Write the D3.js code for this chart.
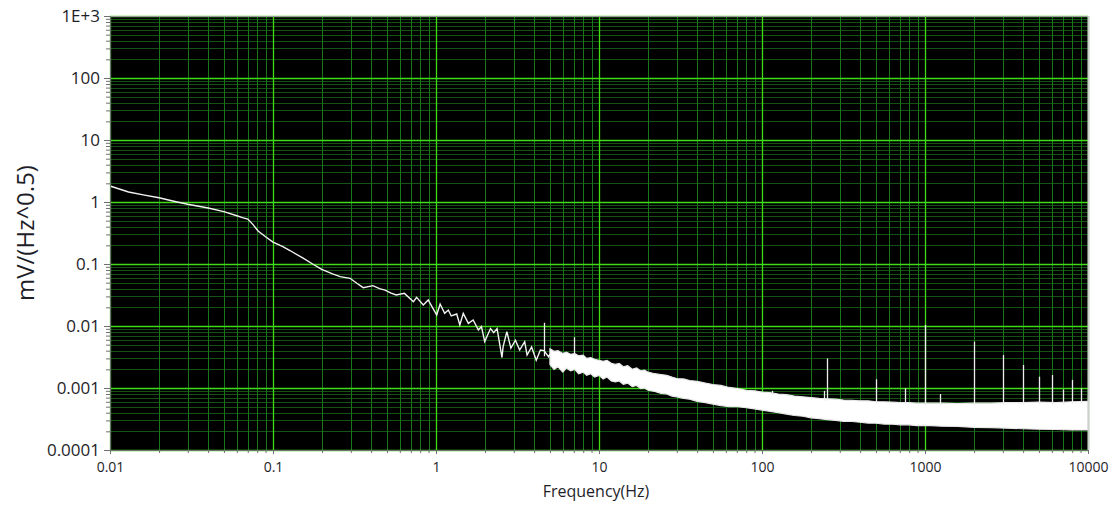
<!DOCTYPE html>
<html>
<head>
<meta charset="utf-8">
<script src="https://cdn.jsdelivr.net/npm/d3@7"></script>
<style>
  body { margin: 0; background: #fff; }
  svg { display: block; }
  .tick text { font-family: "Open Sans", sans-serif; fill: #1e1e28; }
</style>
</head>
<body>
<svg id="chart" width="1113" height="508"></svg>
<script>
// tick labels
const xTickLabels = ["0.01", "0.1", "1", "10", "100", "1000", "10000"]
const yTickLabels = ["0.0001", "0.001", "0.01", "0.1", "1", "10", "100", "1E+3"]

// low frequency trace [Hz, mV/sqrt(Hz)]
const trace = [
  [0.01, 1.81], [0.013, 1.45], [0.016, 1.3], [0.02, 1.17], [0.025, 1.02],
  [0.03, 0.92], [0.04, 0.8], [0.05, 0.7], [0.06, 0.6], [0.065, 0.56],
  [0.07, 0.53], [0.075, 0.44], [0.081, 0.34], [0.09, 0.275], [0.1, 0.225],
  [0.115, 0.19], [0.127, 0.165], [0.153, 0.124], [0.175, 0.1], [0.199, 0.082], [0.23, 0.07],
  [0.258, 0.0625], [0.297, 0.0588], [0.33, 0.048], [0.358, 0.0415], [0.41, 0.0447],
  [0.45, 0.04], [0.487, 0.038], [0.53, 0.034], [0.57, 0.0316], [0.64, 0.0336],
  [0.727, 0.0247], [0.76, 0.029], [0.836, 0.0218], [0.896, 0.0263], [0.95, 0.02],
  [1.01, 0.015], [1.06, 0.0226], [1.13, 0.016], [1.19, 0.0181], [1.24, 0.0145],
  [1.34, 0.0156], [1.4, 0.0104], [1.47, 0.016], [1.58, 0.011], [1.69, 0.0125],
  [1.82, 0.0086], [1.9, 0.0098], [1.99, 0.0056], [2.16, 0.0091], [2.26, 0.0078],
  [2.37, 0.0091], [2.54, 0.0031], [2.58, 0.0046], [2.72, 0.0081], [2.88, 0.0044],
  [3.07, 0.0059], [3.26, 0.0041], [3.5, 0.0056], [3.62, 0.0034], [3.86, 0.0046],
  [4.12, 0.0028], [4.37, 0.0041], [4.6, 0.004], [4.9, 0.0032], [5.0, 0.0035]
]

// noise band above ~5 Hz [Hz, low edge, high edge]
const band = [
  [5.0, 0.0024, 0.0043], [5.3, 0.002, 0.0039], [5.6, 0.0022, 0.004], [6.0, 0.0018, 0.0036],
  [6.3, 0.0021, 0.0038], [6.7, 0.0019, 0.0035], [7.1, 0.002, 0.0036], [7.5, 0.0017, 0.0033],
  [8.0, 0.0018, 0.0034], [8.4, 0.0016, 0.003], [8.9, 0.0017, 0.0031], [9.4, 0.0015, 0.0029],
  [10, 0.0016, 0.0028], [10.6, 0.0014, 0.0027], [11.2, 0.0015, 0.0028], [11.9, 0.0013, 0.0025],
  [12.6, 0.00125, 0.0024], [13.3, 0.0013, 0.0025], [14.1, 0.00115, 0.0022], [15, 0.0012, 0.0023],
  [16, 0.00105, 0.002], [17, 0.0011, 0.0021], [18, 0.00098, 0.0019], [19, 0.001, 0.00195],
  [20, 0.00092, 0.0018], [22, 0.00088, 0.0017], [24, 0.00082, 0.00165], [26, 0.0008, 0.0016],
  [28, 0.00074, 0.0015], [30, 0.00072, 0.00142], [33, 0.00068, 0.0014], [36, 0.00066, 0.00132],
  [40, 0.00061, 0.00128], [45, 0.00058, 0.0012], [50, 0.00055, 0.00114], [56, 0.00052, 0.0011],
  [63, 0.0005, 0.00102], [71, 0.0005, 0.00098], [80, 0.00048, 0.00092], [90, 0.00046, 0.0009],
  [100, 0.00044, 0.00086], [112, 0.00042, 0.00084], [126, 0.0004, 0.0008], [141, 0.00038, 0.00078],
  [158, 0.00036, 0.00074], [178, 0.00035, 0.00072], [200, 0.00033, 0.0007], [224, 0.00032, 0.00068],
  [251, 0.00031, 0.00067], [282, 0.0003, 0.00066], [316, 0.00029, 0.00064], [355, 0.000288, 0.00063],
  [398, 0.00028, 0.00062], [447, 0.000272, 0.00062], [501, 0.00027, 0.0006], [562, 0.000262, 0.0006],
  [631, 0.00026, 0.00059], [708, 0.000255, 0.00058], [794, 0.000255, 0.00058], [891, 0.000248, 0.00057],
  [1000, 0.00025, 0.00057], [1259, 0.000242, 0.00057], [1585, 0.00024, 0.00056], [1995, 0.000232, 0.00057],
  [2512, 0.00023, 0.00057], [3162, 0.000225, 0.00058], [3981, 0.00022, 0.00058], [5012, 0.000216, 0.00059],
  [6310, 0.000214, 0.00058], [7943, 0.00021, 0.0006], [10000, 0.00021, 0.00061]
]

// line spikes [Hz, peak]
const spikes = [
  [4.62, 0.0113], [7.03, 0.0066], [115, 0.0009], [240, 0.0009], [250, 0.003],
  [500, 0.00138], [750, 0.00099], [1000, 0.0104], [1240, 0.0008], [2000, 0.0056],
  [3000, 0.0034], [4000, 0.00235], [5000, 0.00152], [6000, 0.00162], [7000, 0.00095],
  [8000, 0.00135], [9000, 0.00099], [9950, 0.00076]
]

const svg = d3.select('#chart')
const plotLeft = 110, plotRight = 1088, plotTop = 16, plotBottom = 450

const x = d3.scaleLog().domain([0.01, 10000]).range([plotLeft, plotRight])
const y = d3.scaleLog().domain([0.0001, 1000]).range([plotBottom, plotTop])

const isMajor = d => Math.abs(Math.log10(d) - Math.round(Math.log10(d))) < 1e-9
const crisp = v => Math.round(v) + 0.5

svg.append('rect')
  .attr('x', plotLeft).attr('y', plotTop)
  .attr('width', plotRight - plotLeft).attr('height', plotBottom - plotTop)
  .attr('fill', '#000')

// grid
const grid = svg.append('g')
grid.selectAll('.hminor')
  .data(y.ticks().filter(d => !isMajor(d)))
  .join('line')
  .attr('x1', plotLeft).attr('x2', plotRight)
  .attr('y1', d => crisp(y(d))).attr('y2', d => crisp(y(d)))
  .attr('stroke', '#145214')
grid.selectAll('.vminor')
  .data(x.ticks().filter(d => !isMajor(d)))
  .join('line')
  .attr('y1', plotTop).attr('y2', plotBottom)
  .attr('x1', d => crisp(x(d))).attr('x2', d => crisp(x(d)))
  .attr('stroke', '#1a761a')
grid.selectAll('.hmajor')
  .data(y.ticks().filter(isMajor))
  .join('line')
  .attr('x1', plotLeft).attr('x2', plotRight)
  .attr('y1', d => crisp(y(d))).attr('y2', d => crisp(y(d)))
  .attr('stroke', '#3fdc14').attr('stroke-width', 1.3)
grid.selectAll('.vmajor')
  .data(x.ticks().filter(isMajor))
  .join('line')
  .attr('y1', plotTop).attr('y2', plotBottom)
  .attr('x1', d => crisp(x(d))).attr('x2', d => crisp(x(d)))
  .attr('stroke', '#3fdc14').attr('stroke-width', 1.3)

// data
const bandHi = f => {
  const i = Math.max(1, Math.min(band.length - 1, d3.bisector(d => d[0]).left(band, f)))
  const a = band[i - 1], b = band[i]
  const t = (Math.log(f) - Math.log(a[0])) / (Math.log(b[0]) - Math.log(a[0]))
  return Math.exp(Math.log(a[2]) + t * (Math.log(b[2]) - Math.log(a[2])))
}

svg.append('path')
  .datum(band)
  .attr('d', d3.area().x(d => x(d[0])).y0(d => y(d[1])).y1(d => y(d[2])))
  .attr('fill', '#fff').attr('stroke', '#e8e8e8').attr('stroke-width', 1.2)

svg.selectAll('.spike')
  .data(spikes)
  .join('line')
  .attr('x1', d => crisp(x(d[0]))).attr('x2', d => crisp(x(d[0])))
  .attr('y1', d => y(d[1])).attr('y2', d => y(d[0] < 5 ? 0.0035 : bandHi(d[0])) + 2)
  .attr('stroke', '#eee').attr('stroke-width', 1.3)

svg.append('path')
  .datum(trace)
  .attr('d', d3.line().x(d => x(d[0])).y(d => y(d[1])))
  .attr('fill', 'none').attr('stroke', '#f2f2f2').attr('stroke-width', 1.4)

// frame
svg.append('line').attr('x1', plotLeft).attr('x2', plotRight).attr('y1', plotTop + 0.5).attr('y2', plotTop + 0.5)
  .attr('stroke', '#9a9a9a')
svg.append('line').attr('x1', plotRight + 0.5).attr('x2', plotRight + 0.5).attr('y1', plotTop).attr('y2', plotBottom)
  .attr('stroke', '#d0d0d0').attr('stroke-width', 2)

// axes
const yMajors = y.ticks().filter(isMajor)
const yAxis = svg.append('g')
  .attr('transform', `translate(${plotLeft},0)`)
  .call(d3.axisLeft(y).tickValues(y.ticks()).tickSize(6).tickPadding(4)
    .tickFormat(d => isMajor(d) ? yTickLabels[yMajors.findIndex(m => Math.abs(m - d) < 1e-12)] : ''))
yAxis.selectAll('.tick text').style('font-size', '17px')
yAxis.selectAll('.tick').filter(d => !isMajor(d)).select('line').attr('x2', -4)
yAxis.selectAll('line, path').attr('stroke', '#707070')

const xMajors = x.ticks().filter(isMajor)
const xAxis = svg.append('g')
  .attr('transform', `translate(0,${plotBottom})`)
  .call(d3.axisBottom(x).tickValues(x.ticks()).tickSize(4).tickPadding(8)
    .tickFormat(d => isMajor(d) ? xTickLabels[xMajors.findIndex(m => Math.abs(m - d) < 1e-12)] : ''))
xAxis.selectAll('.tick text').style('font-size', '14px')
xAxis.selectAll('.tick').filter(d => !isMajor(d)).select('line').attr('y2', 3)
xAxis.selectAll('line, path').attr('stroke', '#707070')

svg.append('text')
  .attr('x', 596).attr('y', 497)
  .attr('text-anchor', 'middle')
  .style('font-family', '"Open Sans", sans-serif').style('font-size', '16px').style('fill', '#1e1e28')
  .text('Frequency(Hz)')

svg.append('text')
  .attr('transform', 'translate(24,233) rotate(-90)')
  .attr('text-anchor', 'middle').attr('dominant-baseline', 'central')
  .style('font-family', '"Open Sans", sans-serif').style('font-size', '24px').style('fill', '#1e1e28')
  .text('mV/(Hz^0.5)')
</script>
</body>
</html>
